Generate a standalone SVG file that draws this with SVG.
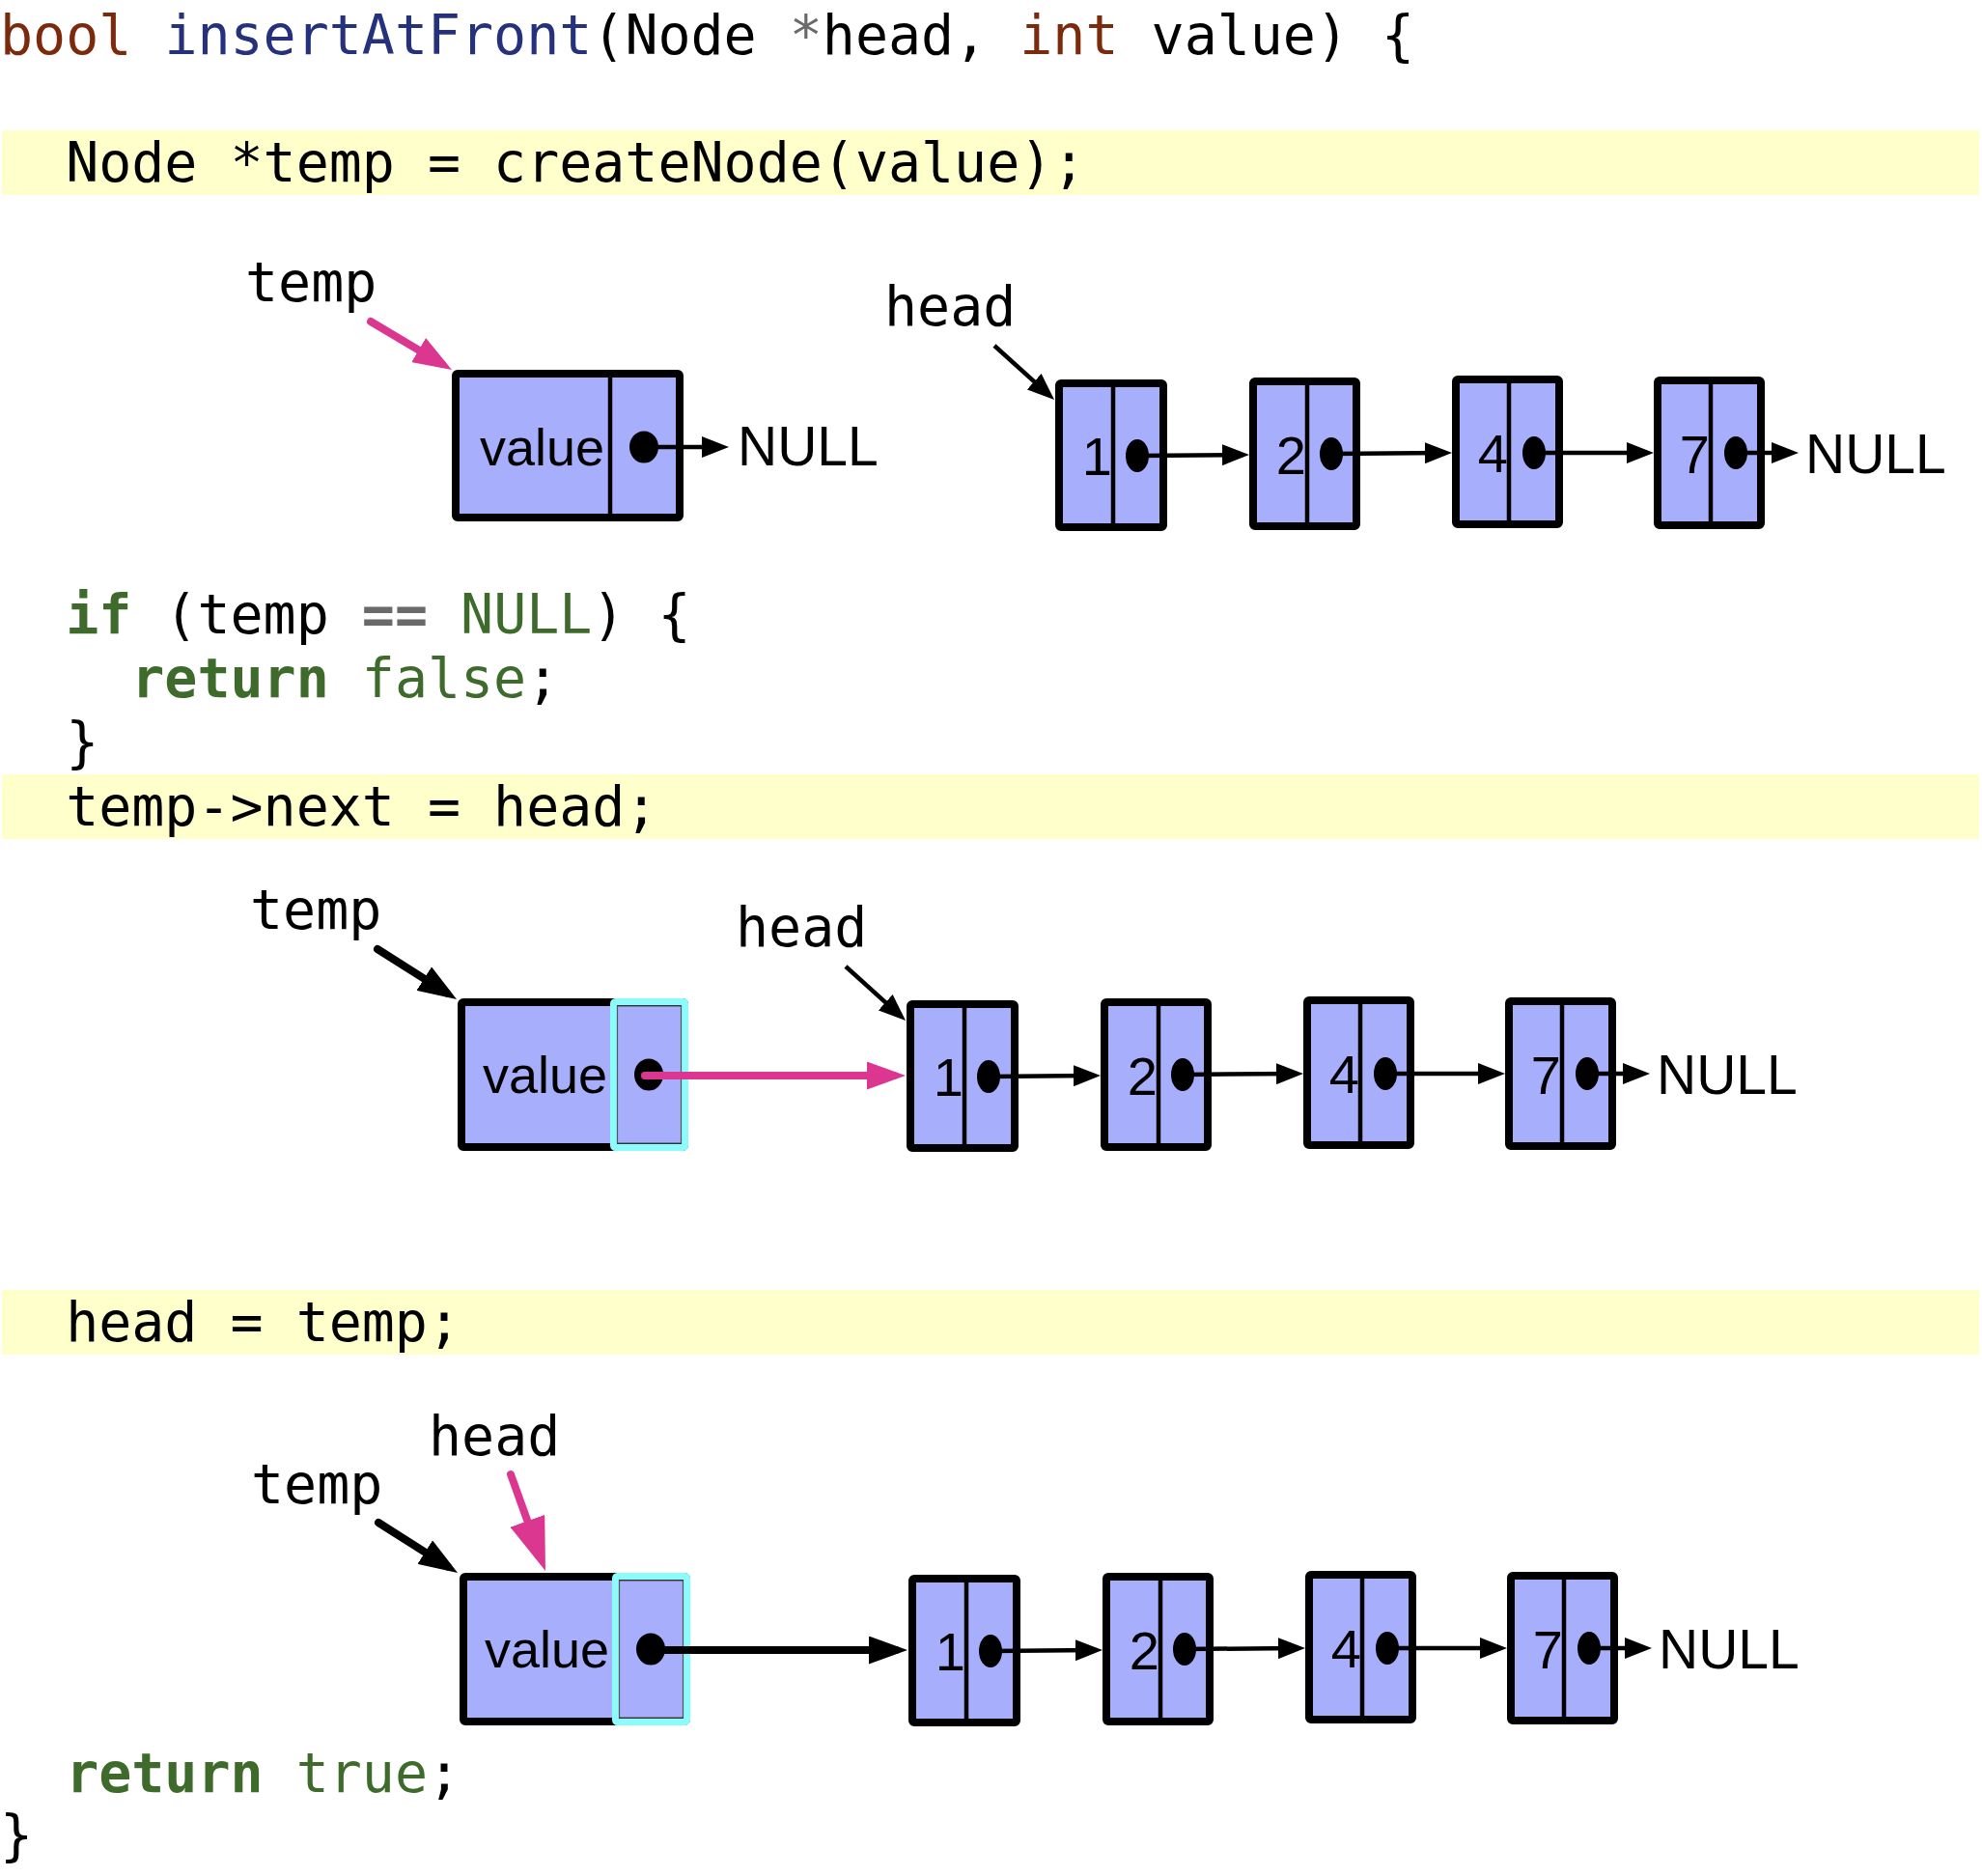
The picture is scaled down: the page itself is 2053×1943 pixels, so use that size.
<svg xmlns="http://www.w3.org/2000/svg" width="2053" height="1943" viewBox="0 0 2053 1943">
<style>
.code{font-family:"DejaVu Sans Mono","Liberation Mono",monospace;font-size:56.6px;fill:#000}
.kw{fill:#7b2a0c}
.fn{fill:#25317c}
.op{fill:#6a6a6a}
.gk{fill:#3e6b2c;font-weight:bold}
.gv{fill:#3e6b2c}
.band{fill:#ffffcc}
.lbl{font-family:"DejaVu Sans Mono","Liberation Mono",monospace;font-size:56.6px;fill:#000}
.sans{font-family:"Liberation Sans",Arial,sans-serif;fill:#000}
.val{font-size:54px}
.dig{font-size:56px;text-anchor:end}
.nul{font-size:57px}
.box{fill:#a7affd;stroke:#000;stroke-width:8;stroke-linejoin:round}
.div{stroke:#000;stroke-width:4.5}
.dot{fill:#000}
.cy{fill:none;stroke:#8cfbfb;stroke-width:7;stroke-linejoin:round}
.cyin{fill:none;stroke:#555;stroke-width:1.2}
.thin{stroke:#000;stroke-width:4.5;fill:none;marker-end:url(#mThin)}
.thick{stroke:#000;stroke-width:8;fill:none;stroke-linecap:round;marker-end:url(#mThick)}
.thickp{stroke:#db3790;stroke-width:8;fill:none;stroke-linecap:round;marker-end:url(#mThickP)}
.headp{stroke:#db3790;stroke-width:8;fill:none;stroke-linecap:round;marker-end:url(#mHeadP)}
</style>
<defs>
<marker id="mThin" markerUnits="userSpaceOnUse" markerWidth="28" markerHeight="22" refX="20" refY="11" orient="auto"><path d="M0,0 L28,11 L0,22 z" fill="#000"/></marker>
<marker id="mThick" markerUnits="userSpaceOnUse" markerWidth="40" markerHeight="29" refX="28" refY="14.5" orient="auto"><path d="M0,0 L40,14.5 L0,29 z" fill="#000"/></marker>
<marker id="mThickP" markerUnits="userSpaceOnUse" markerWidth="40" markerHeight="29" refX="28" refY="14.5" orient="auto"><path d="M0,0 L40,14.5 L0,29 z" fill="#db3790"/></marker>
<marker id="mHeadP" markerUnits="userSpaceOnUse" markerWidth="55" markerHeight="38" refX="40" refY="19" orient="auto"><path d="M0,0 L55,19 L0,38 z" fill="#db3790"/></marker>
</defs>
<rect width="2053" height="1943" fill="#fff"/>

<g id="code">
<rect class="band" x="2" y="135" width="2048" height="67"/>
<rect class="band" x="2" y="802" width="2048" height="67"/>
<rect class="band" x="2" y="1336" width="2048" height="67"/>
<text class="code" x="0" y="56" xml:space="preserve"><tspan class="kw">bool</tspan> <tspan class="fn">insertAtFront</tspan>(Node <tspan class="op">*</tspan>head, <tspan class="kw">int</tspan> value) {</text>
<text class="code" x="0" y="188" xml:space="preserve">  Node *temp = createNode(value);</text>
<text class="code" x="0" y="656" xml:space="preserve">  <tspan class="gk">if</tspan> (temp <tspan class="op" font-weight="bold">==</tspan> <tspan class="gv">NULL</tspan>) {</text>
<text class="code" x="0" y="722" xml:space="preserve">    <tspan class="gk">return</tspan> <tspan class="gv">false</tspan>;</text>
<text class="code" x="0" y="788" xml:space="preserve">  }</text>
<text class="code" x="0" y="855" xml:space="preserve">  temp-&gt;next = head;</text>
<text class="code" x="0" y="1389" xml:space="preserve">  head = temp;</text>
<text class="code" x="0" y="1856" xml:space="preserve">  <tspan class="gk">return</tspan> <tspan class="gv">true</tspan>;</text>
<text class="code" x="0" y="1920" xml:space="preserve">}</text>
</g>

<!-- Diagram 1 -->
<g id="diagram1">
<text class="lbl" x="254" y="312">temp</text>
<g id="d1-temp-node">
<rect class="box" x="472" y="387" width="232" height="149" rx="2"/>
<line class="div" x1="632" y1="391" x2="632" y2="536"/>
<text class="sans val" x="497" y="482">value</text>
<ellipse class="dot" cx="667" cy="463" rx="15" ry="16.5"/>
</g>
<text class="sans nul" x="764" y="482">NULL</text>
<g transform="translate(154,-643)">
<text class="lbl" x="762" y="980">head</text>
<g id="d1-node1"><rect class="box" x="943" y="1040" width="108" height="149" rx="2"/><line class="div" x1="999" y1="1044" x2="999" y2="1189"/><text class="sans dig" x="998" y="1135">1</text><ellipse class="dot" cx="1024" cy="1115" rx="12" ry="17"/></g>
<g id="d1-node2"><rect class="box" x="1144" y="1038" width="107" height="150" rx="2"/><line class="div" x1="1200" y1="1042" x2="1200" y2="1188"/><text class="sans dig" x="1199" y="1134">2</text><ellipse class="dot" cx="1225" cy="1113" rx="12" ry="17"/></g>
<g id="d1-node4"><rect class="box" x="1354" y="1036" width="107" height="150" rx="2"/><line class="div" x1="1409" y1="1040" x2="1409" y2="1186"/><text class="sans dig" x="1408" y="1132">4</text><ellipse class="dot" cx="1435" cy="1112" rx="12" ry="17"/></g>
<g id="d1-node7"><rect class="box" x="1563" y="1037" width="107" height="150" rx="2"/><line class="div" x1="1618" y1="1041" x2="1618" y2="1187"/><text class="sans dig" x="1617" y="1133">7</text><ellipse class="dot" cx="1644" cy="1112" rx="12" ry="17"/></g>
<text class="sans nul" x="1716" y="1133">NULL</text>
</g>
<g id="d1-connectors">
<line class="thickp" x1="384" y1="333" x2="457.7" y2="376.9"/>
<line class="thin" x1="667" y1="463" x2="747" y2="463"/>
<g transform="translate(154,-643)">
<line class="thin" x1="876" y1="1001" x2="932.1" y2="1051.6"/>
<line class="thin" x1="1024" y1="1115" x2="1132" y2="1114"/>
<line class="thin" x1="1225" y1="1113" x2="1342" y2="1112"/>
<line class="thin" x1="1435" y1="1112" x2="1551" y2="1112"/>
<line class="thin" x1="1644" y1="1112" x2="1701" y2="1112"/>
</g>
</g>
</g>

<!-- Diagram 2 -->
<g id="diagram2">
<text class="lbl" x="259" y="962">temp</text>
<g id="d2-temp-node">
<rect class="box" x="478" y="1038" width="231" height="150" rx="2"/>
<text class="sans val" x="500" y="1132">value</text>
<rect class="cy" x="635.5" y="1037.5" width="74" height="151" rx="2"/>
<rect class="cyin" x="639.5" y="1042" width="66" height="142"/>
<ellipse class="dot" cx="672" cy="1113" rx="15" ry="16.5"/>
</g>
<text class="lbl" x="762" y="980">head</text>
<g id="d2-node1"><rect class="box" x="943" y="1040" width="108" height="149" rx="2"/><line class="div" x1="999" y1="1044" x2="999" y2="1189"/><text class="sans dig" x="998" y="1135">1</text><ellipse class="dot" cx="1024" cy="1115" rx="12" ry="17"/></g>
<g id="d2-node2"><rect class="box" x="1144" y="1038" width="107" height="150" rx="2"/><line class="div" x1="1200" y1="1042" x2="1200" y2="1188"/><text class="sans dig" x="1199" y="1134">2</text><ellipse class="dot" cx="1225" cy="1113" rx="12" ry="17"/></g>
<g id="d2-node4"><rect class="box" x="1354" y="1036" width="107" height="150" rx="2"/><line class="div" x1="1409" y1="1040" x2="1409" y2="1186"/><text class="sans dig" x="1408" y="1132">4</text><ellipse class="dot" cx="1435" cy="1112" rx="12" ry="17"/></g>
<g id="d2-node7"><rect class="box" x="1563" y="1037" width="107" height="150" rx="2"/><line class="div" x1="1618" y1="1041" x2="1618" y2="1187"/><text class="sans dig" x="1617" y="1133">7</text><ellipse class="dot" cx="1644" cy="1112" rx="12" ry="17"/></g>
<text class="sans nul" x="1716" y="1133">NULL</text>
<g id="d2-connectors">
<line class="thick" x1="391" y1="983" x2="462.9" y2="1028.6"/>
<line class="thin" x1="876" y1="1001" x2="932.1" y2="1051.6"/>
<line class="thickp" x1="668" y1="1114" x2="926" y2="1114"/>
<line class="thin" x1="1024" y1="1115" x2="1132" y2="1114"/>
<line class="thin" x1="1225" y1="1113" x2="1342" y2="1112"/>
<line class="thin" x1="1435" y1="1112" x2="1551" y2="1112"/>
<line class="thin" x1="1644" y1="1112" x2="1701" y2="1112"/>
</g>
</g>

<!-- Diagram 3 -->
<g id="diagram3">
<text class="lbl" x="260" y="1557">temp</text>
<text class="lbl" x="444" y="1507">head</text>
<g transform="translate(2,595)">
<g id="d3-temp-node">
<rect class="box" x="478" y="1038" width="231" height="150" rx="2"/>
<text class="sans val" x="500" y="1132">value</text>
<rect class="cy" x="635.5" y="1037.5" width="74" height="151" rx="2"/>
<rect class="cyin" x="639.5" y="1042" width="66" height="142"/>
<ellipse class="dot" cx="672" cy="1113" rx="15" ry="16.5"/>
</g>
<g id="d3-node1"><rect class="box" x="943" y="1040" width="108" height="149" rx="2"/><line class="div" x1="999" y1="1044" x2="999" y2="1189"/><text class="sans dig" x="998" y="1135">1</text><ellipse class="dot" cx="1024" cy="1115" rx="12" ry="17"/></g>
<g id="d3-node2"><rect class="box" x="1144" y="1038" width="107" height="150" rx="2"/><line class="div" x1="1200" y1="1042" x2="1200" y2="1188"/><text class="sans dig" x="1199" y="1134">2</text><ellipse class="dot" cx="1225" cy="1113" rx="12" ry="17"/></g>
<g id="d3-node4"><rect class="box" x="1354" y="1036" width="107" height="150" rx="2"/><line class="div" x1="1409" y1="1040" x2="1409" y2="1186"/><text class="sans dig" x="1408" y="1132">4</text><ellipse class="dot" cx="1435" cy="1112" rx="12" ry="17"/></g>
<g id="d3-node7"><rect class="box" x="1563" y="1037" width="107" height="150" rx="2"/><line class="div" x1="1618" y1="1041" x2="1618" y2="1187"/><text class="sans dig" x="1617" y="1133">7</text><ellipse class="dot" cx="1644" cy="1112" rx="12" ry="17"/></g>
<text class="sans nul" x="1716" y="1133">NULL</text>
</g>
<g id="d3-connectors">
<line class="thick" x1="392" y1="1577" x2="463.9" y2="1622.6"/>
<line class="headp" x1="529" y1="1527" x2="559.9" y2="1612.9"/>
<g transform="translate(2,595)">
<line class="thick" x1="672" y1="1114" x2="926" y2="1114"/>
<line class="thin" x1="1024" y1="1115" x2="1132" y2="1114"/>
<line class="thin" x1="1225" y1="1113" x2="1342" y2="1112"/>
<line class="thin" x1="1435" y1="1112" x2="1551" y2="1112"/>
<line class="thin" x1="1644" y1="1112" x2="1701" y2="1112"/>
</g>
</g>
</g>
</svg>
